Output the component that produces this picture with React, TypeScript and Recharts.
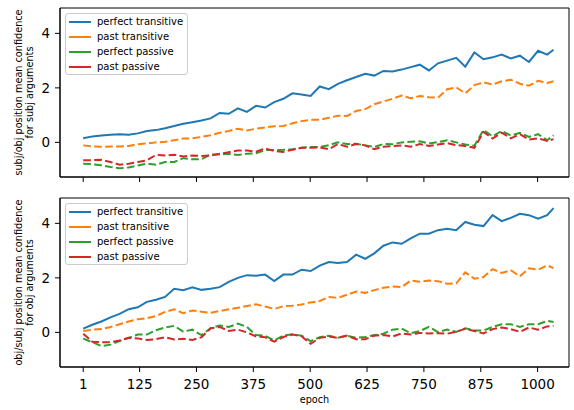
import { LineChart, Line, XAxis, YAxis, ReferenceArea, Legend, Label } from 'recharts';

// sampled epochs (x values)
const epochs = [
  1, 21, 41, 61, 81, 101, 121, 141, 161, 181,
  201, 221, 241, 261, 281, 301, 321, 341, 361, 381,
  401, 421, 441, 461, 481, 501, 521, 541, 561, 581,
  601, 621, 641, 661, 681, 701, 721, 741, 761, 781,
  801, 821, 841, 861, 881, 901, 921, 941, 961, 981,
  1001, 1021, 1035,
];

const xTicks = [1, 125, 250, 375, 500, 625, 750, 875, 1000];
const yTicks = [0, 2, 4];
const seriesNames = ['perfect transitive', 'past transitive', 'perfect passive', 'past passive'];

// top panel: subj arguments
const subjPerfectTransitive = [
  0.15, 0.22, 0.25, 0.28, 0.3, 0.28, 0.33, 0.42, 0.45, 0.52,
  0.6, 0.68, 0.74, 0.8, 0.88, 1.08, 1.05, 1.25, 1.12, 1.34,
  1.28, 1.48, 1.6, 1.8, 1.76, 1.7, 2.05, 1.95, 2.15, 2.28,
  2.4, 2.52, 2.45, 2.62, 2.6, 2.67, 2.76, 2.85, 2.64, 2.9,
  3.0, 3.1, 2.78, 3.3, 3.05, 3.12, 3.22, 3.08, 3.18, 2.95,
  3.36, 3.22, 3.4,
];
const subjPastTransitive = [
  -0.11, -0.15, -0.16, -0.15, -0.15, -0.13, -0.07, -0.04, 0.0, 0.02,
  0.08, 0.14, 0.15, 0.2, 0.26, 0.35, 0.42, 0.5, 0.44, 0.5,
  0.55, 0.59, 0.6, 0.7, 0.78, 0.83, 0.83, 0.9, 0.98, 0.97,
  1.15, 1.22, 1.4, 1.5, 1.6, 1.72, 1.62, 1.7, 1.66, 1.64,
  1.95, 2.02, 1.8, 2.1, 2.2, 2.12, 2.24, 2.3, 2.15, 2.08,
  2.26, 2.18, 2.24,
];
const subjPerfectPassive = [
  -0.78, -0.8, -0.84, -0.9, -0.95, -0.92, -0.85, -0.78, -0.82, -0.72,
  -0.72, -0.58, -0.62, -0.62, -0.45, -0.44, -0.42, -0.46, -0.42, -0.4,
  -0.28, -0.28, -0.27, -0.25, -0.2, -0.17, -0.17, -0.1, 0.0, -0.06,
  -0.05, -0.11, -0.17, -0.06, -0.07, 0.0, 0.02, 0.04, -0.04, 0.01,
  0.08, 0.0, -0.08, -0.12, 0.45, 0.22, 0.42, 0.25, 0.35, 0.2,
  0.3, 0.08, 0.26,
];
const subjPastPassive = [
  -0.66, -0.65, -0.64, -0.72, -0.82, -0.78, -0.72, -0.66, -0.46, -0.48,
  -0.45, -0.52, -0.48, -0.5, -0.48, -0.42, -0.36, -0.3, -0.3, -0.34,
  -0.22, -0.32, -0.35, -0.27, -0.2, -0.2, -0.18, -0.25, -0.06, -0.16,
  -0.06, -0.11, -0.25, -0.16, -0.14, -0.11, -0.16, -0.06, -0.13, -0.08,
  -0.03, -0.1, -0.13, -0.2, 0.38, 0.14, 0.36, 0.15, 0.3, 0.1,
  0.15, 0.05, 0.12,
];

// bottom panel: obj arguments
const objPerfectTransitive = [
  0.14, 0.28, 0.4, 0.55, 0.68, 0.85, 0.92, 1.12, 1.2, 1.3,
  1.6, 1.55, 1.65, 1.56, 1.6, 1.66, 1.85, 2.0, 2.1, 2.08,
  2.12, 1.88, 2.12, 2.12, 2.3, 2.25, 2.45, 2.58, 2.55, 2.58,
  2.85, 2.7, 2.9, 3.18, 3.3, 3.25, 3.45, 3.62, 3.62, 3.75,
  3.8, 3.75, 4.05, 3.95, 3.9, 4.3, 4.08, 4.2, 4.35, 4.3,
  4.17, 4.3, 4.56,
];
const objPastTransitive = [
  0.05, 0.1, 0.12, 0.2, 0.3, 0.4, 0.48, 0.52, 0.6, 0.75,
  0.85, 0.7, 0.8, 0.76, 0.72, 0.78, 0.85, 0.9, 0.97, 1.03,
  0.95, 0.86, 0.96, 0.98, 1.02, 1.1, 1.15, 1.3, 1.27, 1.38,
  1.5, 1.45, 1.55, 1.64, 1.68, 1.66, 1.9, 1.86, 1.9, 1.88,
  1.78, 1.8, 2.2, 1.97, 2.03, 2.32, 2.18, 2.28, 2.06, 2.35,
  2.3, 2.46, 2.36,
];
const objPerfectPassive = [
  -0.23, -0.36, -0.5, -0.45, -0.32, -0.2, -0.08, -0.08, 0.08, 0.18,
  0.24, 0.03, 0.1, -0.1, 0.15, 0.25, 0.2, 0.32, 0.2, -0.1,
  -0.12, -0.3, -0.12, -0.07, -0.12, -0.32, -0.18, -0.12, -0.2, -0.12,
  -0.2, -0.17, -0.1, -0.05, 0.1, 0.14, -0.03, 0.05, 0.2, 0.01,
  0.1, 0.02, 0.15, 0.07, 0.07, 0.2, 0.3, 0.3, 0.2, 0.3,
  0.3, 0.42, 0.38,
];
const objPastPassive = [
  -0.05, -0.34, -0.36, -0.36, -0.3, -0.2, -0.22, -0.28, -0.25, -0.18,
  -0.26, -0.23, -0.28, -0.18, 0.15, 0.2, 0.05, 0.1, 0.0, -0.15,
  -0.18, -0.34, -0.17, -0.08, -0.14, -0.42, -0.2, -0.15, -0.2, -0.12,
  -0.25, -0.25, -0.12, -0.1, -0.15, -0.04, -0.08, -0.02, -0.04, -0.03,
  -0.05, 0.02, 0.13, 0.05, -0.04, 0.12, 0.18, 0.12, 0.02, 0.18,
  0.1, 0.22, 0.24,
];

const colors = ['#1f77b4', '#ff7f0e', '#2ca02c', '#d62728'];
const dashes = [undefined, '7.7 3.3', '7.7 3.3', '7.7 3.3'];
const font = '"DejaVu Sans", sans-serif';
const xDomain = [-50, 1069];
const yDomain = [-1.27, 4.93];

const buildRows = (series: number[][]) =>
  epochs.map((epoch, i) => {
    const row: any = { epoch };
    series.forEach((s, k) => {
      row['s' + k] = s[i];
    });
    return row;
  });

const subjRows = buildRows([subjPerfectTransitive, subjPastTransitive, subjPerfectPassive, subjPastPassive]);
const objRows = buildRows([objPerfectTransitive, objPastTransitive, objPerfectPassive, objPastPassive]);

const LegendBox = (props: any) => (
  <div
    style={{
      display: 'inline-block',
      border: '1px solid #cccccc',
      borderRadius: 3,
      background: 'rgba(255,255,255,0.8)',
      padding: '0 4px 0 3px',
      fontFamily: font,
      fontSize: 10,
      color: '#000',
      whiteSpace: 'nowrap',
    }}
  >
    {(props.payload || []).map((entry: any) => (
      <div key={entry.value} style={{ display: 'flex', alignItems: 'center', height: 15 }}>
        <svg width={22} height={4} style={{ marginRight: 6 }}>
          <line x1={0} x2={22} y1={2} y2={2} stroke={entry.color} strokeWidth={2} />
        </svg>
        <span style={{ lineHeight: '15px' }}>{entry.value}</span>
      </div>
    ))}
  </div>
);

const AxisTitle = (props: any) => {
  const vb = props.viewBox || { x: 0, y: 8, width: 60, height: 169 };
  const cy = vb.y + vb.height / 2;
  const lines: string[] = props.lines;
  return (
    <g>
      {lines.map((t, i) => {
        const bx = vb.x + 22 + i * 11;
        return (
          <text
            key={t}
            x={bx}
            y={cy}
            transform={`rotate(-90 ${bx} ${cy})`}
            textAnchor="middle"
            fontSize={9.7}
            fontFamily={font}
            fill="#000"
          >
            {t}
          </text>
        );
      })}
    </g>
  );
};

const Panel = ({ rows, title, height, showLabels }: any) => (
  <LineChart width={574} height={height} data={rows} margin={{ top: 8, right: 5, bottom: 0, left: 0 }}>
    <XAxis
      dataKey="epoch"
      type="number"
      domain={xDomain}
      ticks={xTicks}
      interval={0}
      allowDataOverflow
      height={height - 177}
      stroke="#000"
      tickSize={5}
      tickMargin={7}
      tick={{ fontSize: 13.5, fill: '#000', fontFamily: font }}
      tickFormatter={showLabels ? undefined : () => ''}
    >
      {showLabels && (
        <Label value="epoch" position="insideBottom" offset={7} fontSize={9.7} fill="#000" fontFamily={font} />
      )}
    </XAxis>
    <YAxis
      type="number"
      domain={yDomain}
      ticks={yTicks}
      interval={0}
      allowDataOverflow
      width={60}
      stroke="#000"
      tickSize={5}
      tickMargin={5}
      tick={{ fontSize: 13.5, fill: '#000', fontFamily: font }}
      label={<AxisTitle lines={title} />}
    />
    <ReferenceArea
      x1={xDomain[0]}
      x2={xDomain[1]}
      y1={yDomain[0]}
      y2={yDomain[1]}
      stroke="#000"
      strokeWidth={1}
      fill="none"
      fillOpacity={0}
    />
    {seriesNames.map((name, k) => (
      <Line
        key={name}
        dataKey={'s' + k}
        name={name}
        type="linear"
        stroke={colors[k]}
        strokeWidth={2}
        strokeDasharray={dashes[k]}
        dot={false}
        isAnimationActive={false}
      />
    ))}
    <Legend
      layout="horizontal"
      verticalAlign="middle"
      align="center"
      itemSorter="dataKey"
      content={<LegendBox />}
      wrapperStyle={{ left: 65, top: 13, width: 'auto', height: 'auto' }}
    />
  </LineChart>
);

const App = () => (
  <div style={{ position: 'absolute', left: 0, top: 0, width: 574, height: 410, background: '#fff' }}>
    <div style={{ position: 'absolute', left: 0, top: 0 }}>
      <Panel
        rows={subjRows}
        height={190}
        showLabels={false}
        title={['subj/obj position mean confidence', 'for subj arguments']}
      />
    </div>
    <div style={{ position: 'absolute', left: 0, top: 190 }}>
      <Panel
        rows={objRows}
        height={220}
        showLabels
        title={['obj/subj position mean confidence', 'for obj arguments']}
      />
    </div>
  </div>
);

export default App;
